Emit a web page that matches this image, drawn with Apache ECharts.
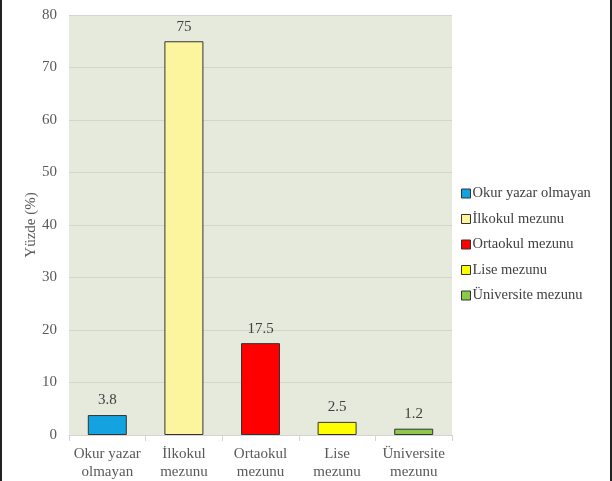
<!DOCTYPE html>
<html><head><meta charset="utf-8">
<script src="https://cdn.jsdelivr.net/npm/echarts@6/dist/echarts.min.js"></script>
<style>html,body{margin:0;padding:0;background:#fff}#c{width:612px;height:481px;box-sizing:border-box;border-left:2px solid #222;border-right:2px solid #222}</style>
</head><body><div id="c"></div>
<script>
const categories = ["Okur yazar\nolmayan", "İlkokul\nmezunu", "Ortaokul\nmezunu", "Lise\nmezunu", "Üniversite\nmezunu"];
const seriesNames = ["Okur yazar olmayan", "İlkokul mezunu", "Ortaokul mezunu", "Lise mezunu", "Üniversite mezunu"];
const values = [3.8, 75, 17.5, 2.5, 1.2];
const colors = ["#12a3e0", "#fdf59d", "#ff0000", "#ffff00", "#8cc84b"];
const yTicks = [0, 10, 20, 30, 40, 50, 60, 70, 80];

const chart = echarts.init(document.getElementById('c'));
const font = "'Liberation Serif', 'Times New Roman', serif";
const series = seriesNames.map((n, i) => ({
  name: n, type: 'bar', stack: 'all', barWidth: 39,
  data: values.map((v, j) => j === i ? v : null),
  itemStyle: { color: colors[i], borderColor: '#333', borderWidth: 1 },
  label: { show: true, position: 'top', distance: 7, fontFamily: font, fontSize: 15, color: '#404040' }
}));
chart.setOption({
  animation: false,
  color: colors,
  grid: { left: 67, right: 158, top: 15, bottom: 46, show: true, backgroundColor: '#e5eadd', borderWidth: 0 },
  legend: {
    orient: 'vertical', left: 459, top: 186, padding: 0, itemWidth: 9, itemHeight: 9, itemGap: 10.5,
    icon: 'rect',
    textStyle: { fontFamily: font, fontSize: 14.5, color: '#404040', padding: [0, 0, 0, -3] },
    itemStyle: { borderColor: '#333', borderWidth: 1 },
    data: seriesNames
  },
  xAxis: {
    type: 'category', data: categories,
    axisLine: { show: true, lineStyle: { color: '#d4d4d4' } },
    axisTick: { show: true, length: 6, lineStyle: { color: '#d4d4d4' } },
    axisLabel: { interval: 0, fontFamily: font, fontSize: 15, color: '#595959', lineHeight: 18, margin: 10 }
  },
  yAxis: {
    type: 'value', min: yTicks[0], max: yTicks[yTicks.length - 1], interval: 10,
    name: 'Yüzde (%)', nameLocation: 'middle', nameGap: 30, nameRotate: 90, nameMoveOverlap: false,
    nameTextStyle: { fontFamily: font, fontSize: 15, color: '#595959' },
    axisLine: { show: false }, axisTick: { show: false },
    axisLabel: { fontFamily: font, fontSize: 15, color: '#595959', margin: 12 },
    splitLine: { lineStyle: { color: '#d2d6cd', width: 1 } }
  },
  series: series
});
</script></body></html>
